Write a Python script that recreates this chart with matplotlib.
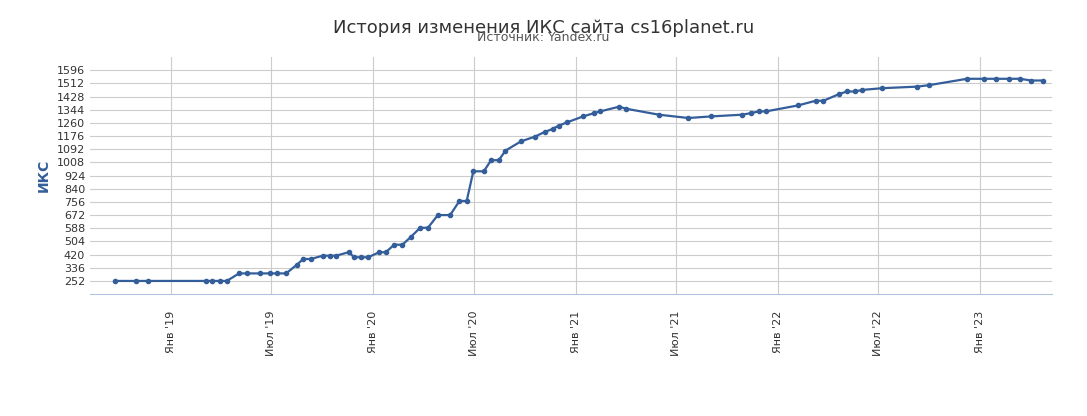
import matplotlib
matplotlib.use("Agg")
import matplotlib.pyplot as plt
import pandas as pd

dates = ["2018-09-23","2018-10-30","2018-11-20","2019-03-05","2019-03-17","2019-03-30","2019-04-12",
"2019-05-04","2019-05-18","2019-06-11","2019-06-29","2019-07-11","2019-07-28","2019-08-16","2019-08-28",
"2019-09-11","2019-10-02","2019-10-15","2019-10-26","2019-11-18","2019-11-28","2019-12-11","2019-12-23",
"2020-01-12","2020-01-24","2020-02-08","2020-02-23","2020-03-09","2020-03-26","2020-04-09","2020-04-27",
"2020-05-19","2020-06-05","2020-06-18","2020-06-30","2020-07-19","2020-08-01","2020-08-15","2020-08-27",
"2020-09-24","2020-10-19","2020-11-06","2020-11-20","2020-12-01","2020-12-16","2021-01-14","2021-02-03",
"2021-02-14","2021-03-20","2021-04-02","2021-05-31","2021-07-23","2021-09-02","2021-10-28","2021-11-13",
"2021-11-27","2021-12-10","2022-02-06","2022-03-10","2022-03-24","2022-04-21","2022-05-05","2022-05-20",
"2022-06-02","2022-07-08","2022-09-09","2022-09-30","2022-12-08","2023-01-07","2023-01-29","2023-02-22",
"2023-03-14","2023-04-03","2023-04-25"]
values = [252,252,252,252,252,252,252,
300,300,300,300,300,300,354,392,
392,413,413,413,435,403,403,403,
435,435,483,483,532,591,591,672,
672,762,762,951,951,1022,1022,1083,
1142,1172,1202,1221,1242,1263,1301,1322,
1333,1363,1350,1312,1291,1301,1312,1322,
1333,1333,1371,1401,1401,1443,1460,1460,
1470,1481,1491,1500,1541,1541,1541,1541,
1541,1530,1530]
yticks = list(range(252, 1597, 84))
month_names = {1: "Янв", 7: "Июл"}

x = pd.to_datetime(dates)
fig = plt.figure(figsize=(10.87, 4.16), dpi=100)
ax = fig.add_axes([0.0828, 0.293, 0.968-0.0828, 0.863-0.293])
color = "#335e9a"
ax.plot(x, values, color=color, lw=1.6, marker="o", ms=3, zorder=3)
ax.set_xlim(pd.Timestamp("2018-08-08"), pd.Timestamp("2023-05-11"))
ax.set_ylim(168, 1680)
ax.set_yticks(yticks)
ax.tick_params(axis="y", labelsize=8, length=0, colors="#333333")
end = pd.Timestamp("2023-05-01")
ticks = [pd.Timestamp(f"{y}-{m:02d}-01") for y in range(2019, 2024) for m in (1, 7)]
ticks = [t for t in ticks if t < end]
ax.set_xticks(ticks)
ax.set_xticklabels([f"{month_names[t.month]} '{t.year % 100}" for t in ticks], rotation=90, fontsize=8, color="#333333")
ax.tick_params(axis="x", length=0, pad=12)
ax.grid(True, color="#cccccc", lw=0.8)
for s in ("top", "right", "left"):
    ax.spines[s].set_visible(False)
ax.spines["bottom"].set_color("#b0c4de")
ax.set_ylabel("ИКС", fontsize=10, fontweight="bold", color=color)
fig.text(0.5, 0.933, "История изменения ИКС сайта cs16planet.ru", ha="center", va="center", fontsize=13, color="#333333")
fig.text(0.5, 0.911, "Источник: Yandex.ru", ha="center", va="center", fontsize=9, color="#555555")
fig.savefig("out.png", dpi=100)
